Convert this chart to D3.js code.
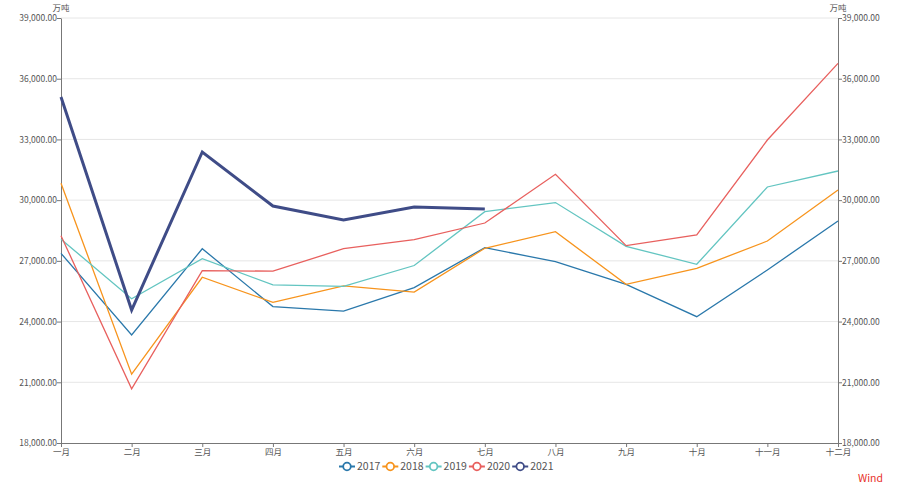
<!DOCTYPE html>
<html><head><meta charset="utf-8">
<script src="https://cdn.jsdelivr.net/npm/d3@7"></script>
<style>body{margin:0;background:#fff;}svg{display:block;font-family:"Noto Sans CJK SC","Noto Sans",sans-serif;}</style>
</head><body>
<svg id="c" width="900" height="490"></svg>
<script>
const months = ["一月","二月","三月","四月","五月","六月","七月","八月","九月","十月","十一月","十二月"];
const yTicks = [18000,21000,24000,27000,30000,33000,36000,39000];
const seriesNames = ["2017","2018","2019","2020","2021"];
const colors = ["#2a78ab","#f7941d","#63c5c1","#e8605e","#3f4c87"];
const v2017 = [27370,23340,27600,24740,24520,25680,27650,26960,25840,24240,26550,28970];
const v2018 = [30830,21400,26190,24950,25760,25460,27620,28440,25840,26630,27980,30500];
const v2019 = [28070,25130,27110,25810,25740,26770,29430,29880,27720,26830,30650,31440];
const v2020 = [28240,20680,26520,26490,27600,28050,28870,31280,27750,28280,32970,36760];
const v2021 = [35100,24570,32380,29710,29020,29660,29560];
const allSeries = [v2017,v2018,v2019,v2020,v2021];

const svg = d3.select("#c");
const L = 61, R = 838, T = 18, B = 443;
const x = d3.scalePoint().domain(months).range([L, R]);
const y = d3.scaleLinear().domain([18000, 39000]).range([B, T]);
const fmt = d3.format(",.2f");

// gridlines
svg.append("g").selectAll("line").data(yTicks.filter(d => d > 18000)).join("line")
  .attr("x1", L).attr("x2", R).attr("y1", d => y(d)).attr("y2", d => y(d))
  .attr("stroke", "#e6e6e6").attr("stroke-width", 1);

// axes
const axL = svg.append("g").attr("transform", `translate(${L},0)`)
  .call(d3.axisLeft(y).tickValues(yTicks).tickFormat(fmt).tickSize(4).tickSizeOuter(0));
const axR = svg.append("g").attr("transform", `translate(${R},0)`)
  .call(d3.axisRight(y).tickValues(yTicks).tickFormat(fmt).tickSize(4).tickSizeOuter(0));
const axB = svg.append("g").attr("transform", `translate(0,${B})`)
  .call(d3.axisBottom(x).tickSize(4).tickSizeOuter(0));
[axL, axR, axB].forEach(a => {
  a.select(".domain").attr("stroke", "#777");
  a.selectAll(".tick line").attr("stroke", "#777");
  a.selectAll("text").attr("fill", "#555").attr("font-size", "8.5px")
    .attr("font-family", '"Noto Sans CJK SC","Noto Sans",sans-serif');
});
axL.selectAll(".tick text").attr("x", -4);
axR.selectAll(".tick text").attr("x", 4);
axB.selectAll(".tick text").attr("y", 6);

// units
svg.append("text").attr("x", L).attr("y", 11).attr("text-anchor", "middle")
  .attr("font-size", "8.5px").attr("fill", "#555").text("万吨");
svg.append("text").attr("x", R).attr("y", 11).attr("text-anchor", "middle")
  .attr("font-size", "8.5px").attr("fill", "#555").text("万吨");

// lines
const line = d3.line().x((d, i) => x(months[i])).y(d => y(d));
allSeries.forEach((s, k) => {
  svg.append("path").datum(s).attr("d", line).attr("fill", "none")
    .attr("stroke", colors[k]).attr("stroke-width", k === 4 ? 3 : 1.3)
    .attr("stroke-linejoin", "miter");
});

// legend
const lg = svg.append("g");
seriesNames.forEach((n, k) => {
  const x0 = 339 + k * 43.3, yc = 466.5;
  const g = lg.append("g");
  g.append("line").attr("x1", x0).attr("x2", x0 + 16).attr("y1", yc).attr("y2", yc)
    .attr("stroke", colors[k]).attr("stroke-width", 2);
  g.append("circle").attr("cx", x0 + 8).attr("cy", yc).attr("r", 3.8)
    .attr("fill", "#fff").attr("stroke", colors[k]).attr("stroke-width", 1.8);
  g.append("text").attr("x", x0 + 18).attr("y", yc + 3.8).attr("font-size", "10.5px")
    .attr("fill", "#555").text(n);
});

// source
svg.append("text").attr("x", 883).attr("y", 482).attr("text-anchor", "end")
  .attr("font-size", "10.5px").attr("fill", "#e8302a").text("Wind");
</script>
</body></html>
